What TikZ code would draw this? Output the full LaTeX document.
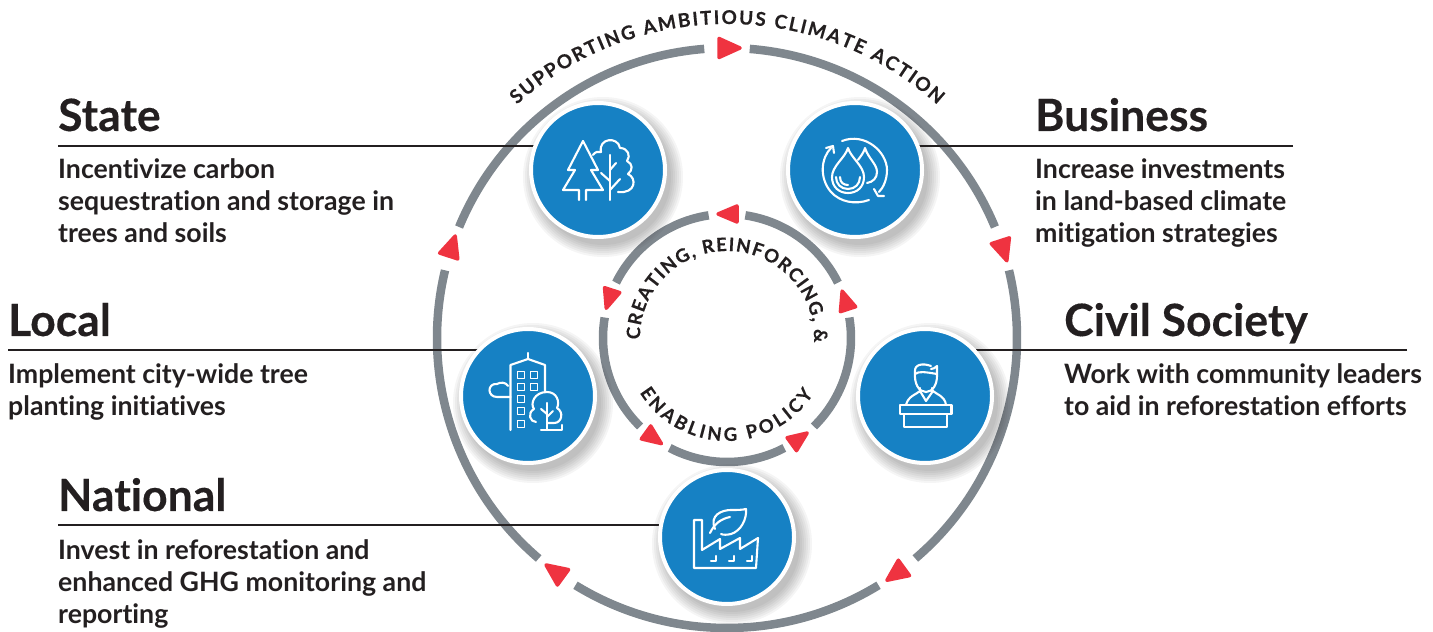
\documentclass[tikz,border=0pt]{standalone}
\usepackage{fontspec}
\setmainfont{Lato}
\newfontfamily\lab{Lato}[UprightFont=* Bold,Ligatures={NoCommon}]
\newfontfamily\labhead{Lato}[UprightFont=* Bold,Ligatures={NoCommon},FakeBold=0.25]
\newfontfamily\labcurve{Lato}[UprightFont=* Bold,Ligatures={NoCommon},FakeBold=0.3]
\usetikzlibrary{decorations.text,backgrounds}
\definecolor{iblue}{HTML}{1681C4}
\definecolor{ringgray}{HTML}{7F878E}
\definecolor{ired}{HTML}{EF3340}
\definecolor{ink}{HTML}{231F20}
\tikzset{
 hub/.style={circle,fill=iblue,draw=white,line width=4pt,minimum size=134pt,inner sep=0pt},
 head/.style={anchor=base west,inner sep=0pt,text=ink,font=\labhead\fontsize{44.5}{44}\selectfont},
 body/.style={anchor=base west,inner sep=0pt,text=ink,align=left,font=\lab\fontsize{26.7}{32}\selectfont},
 rule/.style={draw=ink,line width=1.5pt},
 ring/.style={draw=ringgray,line width=8.5pt},
 icon/.style={draw=white,line width=2.1pt,line join=round,line cap=round,fill=none},
 tri/.style={fill=ired,draw=ired,line width=3.5pt,line join=round},
}
\newcommand{\softshadow}[1]{%
 \foreach \r in {80,78,76,74,72,70,68}{\fill[black,opacity=0.04] ([shift={(5,-7)}]#1.center) circle[radius=\r];}}
\begin{document}
\begin{tikzpicture}[x=1pt,y=1pt]
\useasboundingbox (0,0) rectangle (1433,632);
\coordinate (C) at (727,294);
% hubs
\node[hub] (state) at (598,462) {};
\node[hub] (business) at (855,462) {};
\node[hub] (local) at (528,236) {};
\node[hub] (civil) at (925,236) {};
\node[hub] (national) at (727,95) {};
% titles
\node[head] (tState) at (58,501) {State};
\node[body] (bState) at (58,389) {Incentivize carbon\\sequestration and storage in\\trees and soils};
\node[head] (tBusiness) at (1035,501) {Business};
\node[body] (bBusiness) at (1035,389) {Increase investments\\in land-based climate\\mitigation strategies};
\node[head] (tLocal) at (8,296) {Local};
\node[body] (bLocal) at (8,216) {Implement city-wide tree\\planting initiatives};
\node[head] (tCivil) at (1064,296) {Civil Society};
\node[body] (bCivil) at (1064,216) {Work with community leaders\\to aid in reforestation efforts};
\node[head] (tNational) at (58,121) {National};
\node[body] (bNational) at (58,8) {Invest in reforestation and\\enhanced GHG monitoring and\\reporting};
\coordinate (sState) at (58,486);
\coordinate (sBusiness) at (1293,486);
\coordinate (sLocal) at (8,282);
\coordinate (sCivil) at (1407,282);
\coordinate (sNational) at (58,107);
\begin{scope}[on background layer]
 % rings
 \foreach \a in {90,18,-54,-126,162}{
  \draw[ring] ([shift={(C)}]\a-4.5:290) arc[start angle=\a-4.5,end angle=\a-67.5,radius=290];
  \draw[ring] ([shift={(C)}]\a-8.5:124) arc[start angle=\a-8.5,end angle=\a-63.5,radius=124];
  \begin{scope}[shift={(C)},shift={(\a:290)},rotate=\a-90]
   \filldraw[tri] (-8,-9.5) -- (-8,9.5) -- (13,0) -- cycle;
  \end{scope}
  \begin{scope}[shift={(C)},shift={(\a:124)},rotate=\a+90]
   \filldraw[tri] (-10,-8) -- (-10,8) -- (9,0) -- cycle;
  \end{scope}
 }
 \softshadow{state}\softshadow{business}\softshadow{local}\softshadow{civil}\softshadow{national}
 \draw[rule] (sState) -- (sState -| state.center);
 \draw[rule] (sBusiness) -- (sBusiness -| business.center);
 \draw[rule] (sLocal) -- (sLocal -| local.center);
 \draw[rule] (sCivil) -- (sCivil -| civil.center);
 \draw[rule] (sNational) -- (sNational -| national.center);
\end{scope}
% curved labels
\path[decorate,decoration={text along path,text align={fit to path},text color=ink,
  text={|\labcurve\fontsize{19}{19}\selectfont|SUPPORTING AMBITIOUS CLIMATE ACTION}}]
  ([shift={(C)}]132:314) arc[start angle=132,end angle=48,radius=314];
\path[decorate,decoration={text along path,text align={fit to path},text color=ink,
  text={|\labcurve\fontsize{18.5}{19}\selectfont|CREATING, REINFORCING, {\&}}}]
  ([shift={(C)}]181:87) arc[start angle=181,end angle=-3,radius=87];
\path[decorate,decoration={text along path,text align={fit to path},text color=ink,
  text={|\labcurve\fontsize{18.5}{19}\selectfont|ENABLING POLICY}}]
  ([shift={(C)}]212:103) arc[start angle=212,end angle=327,radius=103];
% tree icon
\begin{scope}[shift={(state.center)},yscale=-1,icon]
 \draw (-15,-29) -- (-30,0) -- (-23,0) -- (-35,20) -- (-19,20) -- (-19,30);
 \draw (-12,30) -- (-12,20) -- (5,20) -- (-7,0) -- (0,0) -- (-15,-29);
 \draw (-5,-15) .. controls (-3,-18) and (0,-19) .. (3,-18)
   .. controls (0,-32) and (20,-34) .. (22,-22)
   .. controls (30,-22) and (33,-14) .. (29,-9)
   .. controls (35,-6) and (35,0) .. (30,4)
   .. controls (39,8) and (38,24) .. (20,22);
 \draw (12,30) -- (12,-15);
 \draw (12,0) -- (18,-7);
 \draw (12,20) -- (22,9);
 \draw (12,11) -- (3,3);
\end{scope}
% water icon
\begin{scope}[shift={(business.center)},yscale=-1,icon]
 \draw (-13,-29) .. controls (10,-38) and (32,-18) .. (32,0) .. controls (32,10) and (28,18) .. (24,22);
 \draw (14,30) .. controls (0,35) and (-15,32) .. (-24,22) .. controls (-36,8) and (-34,-12) .. (-24,-22);
 \draw (-29,-22) -- (-22,-24) -- (-21,-17);
 \draw (19,19) -- (23,26) -- (29,26);
 \draw (-7,-22) .. controls (-10,-12) and (-23,-4) .. (-23,7) .. controls (-23,17) and (-16,23) .. (-7,23)
   .. controls (2,23) and (9,17) .. (9,7) .. controls (9,-4) and (-4,-12) .. (-7,-22) -- cycle;
 \draw (-19,7) .. controls (-19,14) and (-14,19) .. (-7,19) .. controls (0,19) and (5,14) .. (5,7);
 \draw (-15,7) .. controls (-15,13) and (-11,15) .. (-7,15);
 \draw (3,-10) .. controls (6,-14) and (9,-18) .. (10,-22) .. controls (13,-12) and (22,-6) .. (22,2) .. controls (22,8) and (18,12) .. (12,13);
\end{scope}
% building icon
\begin{scope}[shift={(local.center)},yscale=-1,icon]
 \draw (-17.5,34) -- (-17.5,-31) -- (0,-37) -- (17,-31) -- (17,-4);
 \draw (0,-37) -- (0,-43);
 \foreach \px/\py in {-7/-21,6/-21,-7/-9,6/-9,-7/3,-7/15,-7/28}{\draw[line width=1.7pt] (\px-3.5,\py-3.5) rectangle (\px+3.5,\py+3.5);}
 \draw (-17.5,1) -- (-31,1) .. controls (-41,1) and (-41,-13) .. (-31,-12) .. controls (-28,-14) and (-22,-14) .. (-20,-10);
 \draw (8,26) .. controls (2,26) and (-1,17) .. (6,13) .. controls (2,8) and (6,-4) .. (19,-4)
   .. controls (29,-4) and (32,6) .. (29,12) .. controls (36,16) and (34,27) .. (26,27) -- (20,27);
 \draw (19,7) -- (19,34);
 \draw (13,34) -- (34,34) -- (34,29);
 \draw (19,18) -- (13,13);
 \draw (19,21) -- (25,15);
\end{scope}
% person icon
\begin{scope}[shift={(civil.center)},yscale=-1,icon]
 \draw (-25,9) rectangle (26.5,18);
 \draw (-21,18) -- (-21,31) -- (22,31) -- (22,18);
 \draw (-19,9) .. controls (-17,0) and (-8,-2) .. (-5,-5) -- (1,5) -- (8,-5) .. controls (11,-2) and (20,0) .. (21,9);
 \draw (-5,-8) -- (-5,-4);
 \draw (7,-8) -- (7,-4);
 \draw (-10,-24) .. controls (-11,-12) and (-6,-4) .. (1,-4) .. controls (8,-4) and (12,-12) .. (12,-20) -- (12,-30) .. controls (10,-28) and (8,-27) .. (6,-27);
 \draw (-10,-24) .. controls (-11,-32) and (-2,-33) .. (6,-30);
 \draw (-10,-22) .. controls (-6,-25) and (0,-24) .. (12,-22);
\end{scope}
% factory icon
\begin{scope}[shift={(national.center)},yscale=-1,icon]
 \draw (-33,31) -- (-33,-17) -- (-25,-17) -- (-25,13) -- (-7,2) -- (-7,12) -- (13,1) -- (13,12) -- (31,1) -- (29,31) -- cycle;
 \foreach \px in {-16,2,20}{\draw (\px,24) -- (\px+5,24) -- (\px+5,19);}
 \draw (-12,-8) .. controls (-18,-22) and (-5,-27) .. (4,-27) .. controls (10,-27) and (15,-27) .. (19,-28)
   .. controls (20,-18) and (14,-6) .. (4,-3) .. controls (0,-2) and (-4,-2) .. (-6,-3);
 \draw (-17,-4) .. controls (-12,-14) and (-6,-18) .. (3,-20);
\end{scope}
\end{tikzpicture}
\end{document}
